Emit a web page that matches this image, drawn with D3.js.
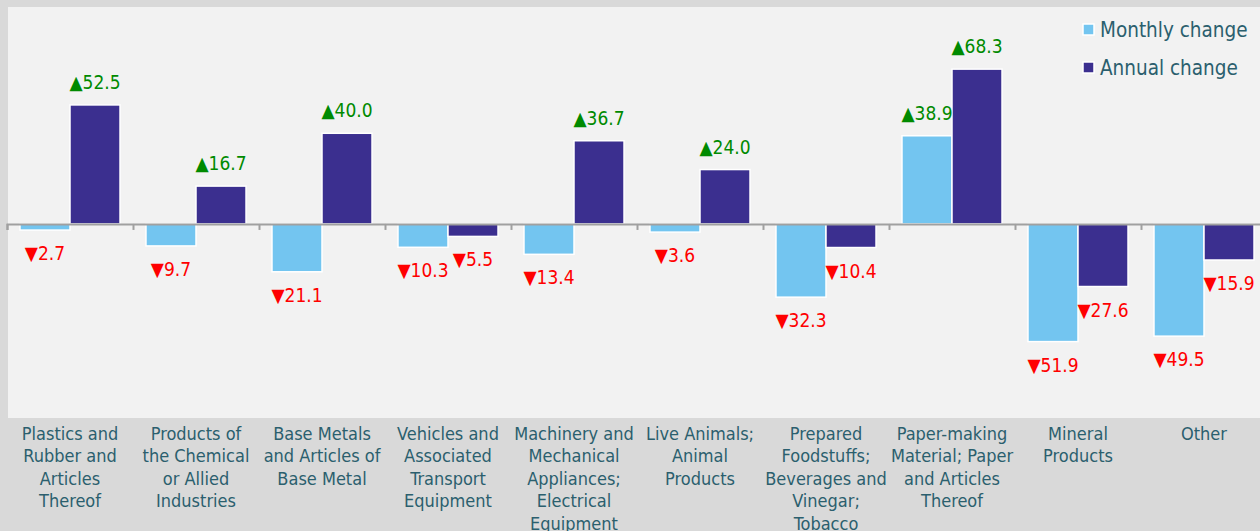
<!DOCTYPE html>
<html lang="en">
<head>
  <meta charset="UTF-8">
  <title>Monthly and annual change by section</title>
  <script src="https://d3js.org/d3.v7.min.js"></script>
  <style>
    body { margin: 0; background: #d9d9d9; }
    svg { display: block; font-family: "DejaVu Sans Condensed", "Open Sans", sans-serif; }
    .cat-label { fill: #2b5f6e; font-size: 18px; }
    .legend text { fill: #2b5f6e; font-size: 20.5px; }
    .value-label { font-size: 19px; }
  </style>
</head>
<body>
  <svg width="1260" height="531"></svg>

  <script>
    // data
    const categories = [
      ["Plastics and", "Rubber and", "Articles", "Thereof"],
      ["Products of", "the Chemical", "or Allied", "Industries"],
      ["Base Metals", "and Articles of", "Base Metal"],
      ["Vehicles and", "Associated", "Transport", "Equipment"],
      ["Machinery and", "Mechanical", "Appliances;", "Electrical", "Equipment"],
      ["Live Animals;", "Animal", "Products"],
      ["Prepared", "Foodstuffs;", "Beverages and", "Vinegar;", "Tobacco"],
      ["Paper-making", "Material; Paper", "and Articles", "Thereof"],
      ["Mineral", "Products"],
      ["Other"]
    ];
    const monthly = [-2.7, -9.7, -21.1, -10.3, -13.4, -3.6, -32.3, 38.9, -51.9, -49.5];
    const annual  = [52.5, 16.7, 40.0, -5.5, 36.7, 24.0, -10.4, 68.3, -27.6, -15.9];
    const seriesNames = ["Monthly change", "Annual change"];
    const seriesColors = ["#73c5f0", "#3b2f8f"];

    const width = 1260, height = 531;
    const plot = { left: 8, top: 7, right: 1260, bottom: 418 };

    const svg = d3.select("svg");

    const x0 = d3.scaleBand()
      .domain(d3.range(categories.length))
      .range([7, 7 + 126 * categories.length])
      .paddingInner(0.206)
      .paddingOuter(0.103);

    const x1 = d3.scaleBand()
      .domain([0, 1])
      .range([0, x0.bandwidth()]);

    const y = d3.scaleLinear()
      .domain([-85.6, 95.7])
      .range([plot.bottom, plot.top]);

    // plot background
    svg.append("rect")
      .attr("x", plot.left).attr("y", plot.top)
      .attr("width", plot.right - plot.left).attr("height", plot.bottom - plot.top)
      .attr("fill", "#f2f2f2");

    const rows = categories.map((c, i) => ({ i, values: [monthly[i], annual[i]] }));

    const groups = svg.append("g").selectAll("g")
      .data(rows)
      .join("g")
      .attr("transform", d => `translate(${x0(d.i)},0)`);

    groups.selectAll("rect")
      .data(d => d.values.map((v, s) => ({ v, s })))
      .join("rect")
      .attr("x", d => x1(d.s))
      .attr("width", x1.bandwidth())
      .attr("y", d => y(Math.max(0, d.v)))
      .attr("height", d => Math.abs(y(d.v) - y(0)))
      .attr("fill", d => seriesColors[d.s])
      .attr("stroke", "#ffffff")
      .attr("stroke-width", 1.5);

    // zero axis with ticks between categories
    const xAxis = d3.axisBottom(d3.scaleLinear().domain([0, categories.length]).range([7, 7 + 126 * categories.length]))
      .ticks(categories.length)
      .tickSize(6)
      .tickFormat("");

    const axisG = svg.append("g")
      .attr("transform", `translate(0,${y(0)})`)
      .call(xAxis);
    axisG.select(".domain").attr("stroke", "#a0a0a0").attr("stroke-width", 2);
    axisG.selectAll(".tick line").attr("stroke", "#a0a0a0").attr("stroke-width", 2);

    groups.selectAll("text")
      .data(d => d.values.map((v, s) => ({ v, s })))
      .join("text")
      .attr("class", "value-label")
      .attr("x", d => x1(d.s) + x1.bandwidth() / 2)
      .attr("y", d => d.v >= 0 ? y(d.v) - 16 : y(d.v) + 30)
      .attr("text-anchor", "middle")
      .attr("fill", d => d.v >= 0 ? "#008a00" : "#ff0000")
      .text(d => (d.v >= 0 ? "\u25B2" : "\u25BC") + Math.abs(d.v).toFixed(1));

    // category labels
    svg.append("g").selectAll("text")
      .data(rows)
      .join("text")
      .attr("class", "cat-label")
      .attr("text-anchor", "middle")
      .attr("x", d => x0(d.i) + x0.bandwidth() / 2)
      .attr("y", 440)
      .selectAll("tspan")
      .data(d => categories[d.i].map(t => ({ t, cx: x0(d.i) + x0.bandwidth() / 2 })))
      .join("tspan")
      .attr("x", d => d.cx)
      .attr("dy", (d, k) => k === 0 ? 0 : 22.4)
      .text(d => d.t);

    // legend
    const legend = svg.append("g").attr("class", "legend")
      .selectAll("g")
      .data(seriesNames)
      .join("g")
      .attr("transform", (d, i) => `translate(1083,${24 + i * 38})`);

    legend.append("rect")
      .attr("width", 11).attr("height", 11)
      .attr("fill", (d, i) => seriesColors[i])
      .attr("stroke", "#ffffff").attr("stroke-width", 1.5);

    legend.append("text")
      .attr("x", 17).attr("y", 13)
      .text(d => d);
  </script>
</body>
</html>
